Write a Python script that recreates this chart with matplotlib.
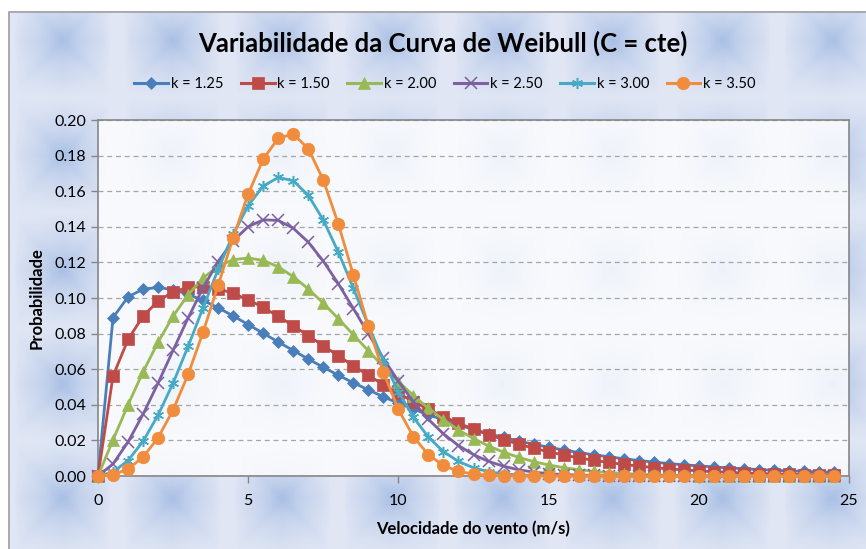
import numpy as np
import matplotlib
matplotlib.use("Agg")
import matplotlib.pyplot as plt
from matplotlib.lines import Line2D

# ---- data (probability values x 1e-4) ----
wind_speed = [i * 0.5 for i in range(50)]
k_labels = ["k = 1.25", "k = 1.50", "k = 2.00", "k = 2.50", "k = 3.00", "k = 3.50"]
k125 = [0,890,1006,1050,1059,1047,1021,986,945,899,851,802,753,705,657,611,566,524,484,445,409,376,344,315,287,262,238,217,197,178,162,146,132,119,108,97,87,78,70,63,57,51,45,41,36,32,29,26,23,20]
k150 = [0,562,767,898,983,1034,1060,1064,1052,1026,990,947,897,844,788,732,675,619,565,514,464,418,375,334,297,263,232,204,179,156,136,118,102,88,76,65,56,47,40,34,29,24,21,17,14,12,10,8,7,6]
k200 = [0,203,400,585,752,898,1019,1113,1178,1215,1225,1211,1175,1120,1051,971,884,794,703,615,530,452,380,316,259,210,169,134,105,81,62,47,35,26,19,14,10,7,5,3,2,2,1,1,0,0,0,0,0,0]
k250 = [0,68,191,347,522,706,888,1058,1205,1322,1401,1439,1436,1392,1314,1207,1080,941,799,661,532,417,318,237,171,120,82,55,35,22,13,8,5,3,1,1,0,0,0,0,0,0,0,0,0,0,0,0,0,0]
k300 = [0,22,87,195,342,522,728,946,1161,1358,1519,1629,1677,1659,1577,1438,1258,1055,846,648,474,330,218,137,82,46,24,12,6,3,1,0,0,0,0,0,0,0,0,0,0,0,0,0,0,0,0,0,0,0]
k350 = [0,7,39,106,215,371,571,809,1072,1339,1584,1780,1898,1921,1839,1663,1416,1130,842,583,374,221,119,59,26,11,4,1,0,0,0,0,0,0,0,0,0,0,0,0,0,0,0,0,0,0,0,0,0,0]
series = [k125, k150, k200, k250, k300, k350]
y_ticks = [0.00, 0.02, 0.04, 0.06, 0.08, 0.10, 0.12, 0.14, 0.16, 0.18, 0.20]
x_ticks = [0, 5, 10, 15, 20, 25]

# ---- styles ----
colors = ["#4A7EBB", "#BE4B48", "#98B954", "#7D60A0", "#46AAC5", "#F08C3C"]
markers = ["D", "s", "^", "x", (6, 2, 0), "o"]
msizes = [6.5, 8, 8, 8, 8, 9]

plt.rcParams['font.family'] = ['Lato', 'DejaVu Sans']

W, H = 866, 549
fig = plt.figure(figsize=(W / 100, H / 100), dpi=100)

# textured background of the chart area
yy, xx = np.mgrid[0:H, 0:W].astype(float)
px, py = 110.0, 114.5
u = ((xx - 62) / px + 0.5) % 1.0 - 0.5
v = ((yy - 40) / py + 0.5) % 1.0 - 0.5
au, av = np.abs(u), np.abs(v)
d = (1 - 2 * au) * (1 - 2 * av)
crease = np.exp(-((au - av) ** 2) / 0.008) * (1 - 2 * np.maximum(au, av))
dark = np.clip(0.7 * d ** 1.0 + 0.15 * crease, 0, 1)
light_stripe = np.exp(-((0.5 - au) ** 2) / 0.004)
dark = np.clip(dark - 0.2 * light_stripe, 0, 1)
c_light = np.array([224, 230, 244]) / 255.0
c_dark = np.array([160, 185, 227]) / 255.0
img = c_light[None, None, :] * (1 - dark[..., None]) + c_dark[None, None, :] * dark[..., None]
img[:11, :, :] = 1.0
img[:, :8, :] = 1.0
bg = fig.add_axes([0, 0, 1, 1], zorder=-10)
bg.imshow(img, extent=[0, W, H, 0], aspect='auto', interpolation='bilinear')
bg.plot([8.5, 8.5, W], [H, 11.5, 11.5], color="#A0A0A0", lw=1.2)
bg.set_xlim(0, W)
bg.set_ylim(H, 0)
bg.axis('off')

left, right, top, bottom = 98, 849, 120, 476
ax = fig.add_axes([left / W, 1 - bottom / H, (right - left) / W, (bottom - top) / H])
ax.set_facecolor((1, 1, 1, 0.8))

handles = []
for vals, col, mk, ms, lab in zip(series, colors, markers, msizes, k_labels):
    yv = np.array(vals) / 10000.0
    mew = 1.1 if mk in ("x", (6, 2, 0)) else 0.5
    ax.plot(wind_speed, yv, color=col, lw=2.0, marker=mk, markersize=ms,
            markerfacecolor=col, markeredgecolor=col, markeredgewidth=mew,
            clip_on=False, zorder=3)
    handles.append(Line2D([], [], color=col, lw=2.2, marker=mk, markersize=ms,
                          markerfacecolor=col, markeredgecolor=col, markeredgewidth=mew, label=lab))

ax.set_xlim(0, 25)
ax.set_ylim(0, 0.20)
ax.set_xticks(x_ticks)
ax.set_yticks(y_ticks)
ax.set_yticklabels(["%.2f" % t for t in y_ticks])
ax.tick_params(axis='both', labelsize=11.5, color="#868686", length=5, width=1)
ax.tick_params(axis='x', pad=8)
ax.grid(axis='y', linestyle=(0, (4, 3)), color="#A6A6A6", lw=0.9)
ax.set_axisbelow(True)
for s in ax.spines.values():
    s.set_color("#868686")
    s.set_linewidth(1.2)

ax.set_ylabel("Probabilidade", fontsize=12, fontweight='bold', labelpad=7)
ax.set_xlabel("Velocidade do vento (m/s)", fontsize=12, fontweight='bold', labelpad=9)

fig.text(443 / W, 1 - 43 / H, "Variabilidade da Curva de Weibull (C = cte)", ha='center', va='center',
         fontsize=18.5, fontweight='bold')

fig.legend(handles=handles, loc='center', bbox_to_anchor=(445 / W, 1 - 84 / H), ncol=6, frameon=False,
           fontsize=10.5, handlelength=2.3, columnspacing=1.2, handletextpad=0.2)

fig.savefig("out.png", dpi=100)
